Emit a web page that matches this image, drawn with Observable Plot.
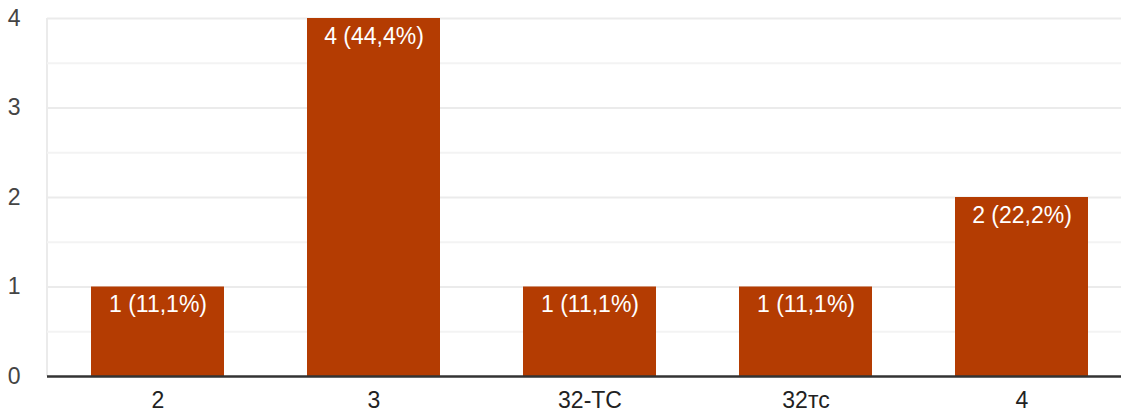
<!DOCTYPE html>
<html>
<head>
<meta charset="utf-8">
<script src="https://cdn.jsdelivr.net/npm/d3@7"></script>
<script src="https://cdn.jsdelivr.net/npm/@observablehq/plot@0.6"></script>
<style>
  html, body { margin: 0; padding: 0; background: #fff; }
  #chart { width: 1123px; height: 417px; }
</style>
</head>
<body>
<div id="chart"></div>
<script>
const categories = ["2", "3", "32-TC", "32тс", "4"];
const counts = [1, 4, 1, 1, 2];
const labels = ["1 (11,1%)", "4 (44,4%)", "1 (11,1%)", "1 (11,1%)", "2 (22,2%)"];
const majorTicks = [0, 1, 2, 3, 4];
const minorTicks = [0.5, 1.5, 2.5, 3.5];

const data = categories.map((c, i) => ({cat: c, value: counts[i], label: labels[i]}));

const chart = Plot.plot({
  width: 1123,
  height: 417,
  marginLeft: 47,
  marginRight: 2,
  marginTop: 18,
  marginBottom: 41,
  style: {fontFamily: "Arial, 'Liberation Sans', sans-serif", background: "#fff"},
  x: {domain: categories, range: [47, 1132], paddingInner: 0.382, paddingOuter: 0.194, label: null},
  y: {domain: [0, 4], label: null},
  marks: [
    Plot.ruleY(minorTicks, {stroke: "#f3f3f3", strokeWidth: 2}),
    Plot.ruleY(majorTicks.filter(d => d > 0), {stroke: "#ebebeb", strokeWidth: 2}),
    Plot.axisY({ticks: majorTicks, tickFormat: "d", tickSize: 0, tickPadding: 27, fontSize: 23, fill: "#444", label: null, textAnchor: "end"}),
    Plot.axisX({tickSize: 0, tickPadding: 15, fontSize: 23, fill: "#222", label: null}),
    Plot.barY(data, {x: "cat", y: "value", fill: "#b43c02"}),
    Plot.text(data, {x: "cat", y: "value", text: "label", fill: "#fff", fontSize: 23, lineAnchor: "top", dy: 9}),
    Plot.ruleY([0], {stroke: "#333", strokeWidth: 2.5})
  ]
});

// left vertical gridline at the plot's left edge
const svg = d3.select(chart);
const yS = chart.scale("y");
svg.insert("line", ":first-child")
  .attr("x1", 47).attr("x2", 47)
  .attr("y1", yS.apply(4)).attr("y2", yS.apply(0))
  .attr("stroke", "#ebebeb").attr("stroke-width", 2);

document.getElementById("chart").appendChild(chart);
</script>
</body>
</html>
